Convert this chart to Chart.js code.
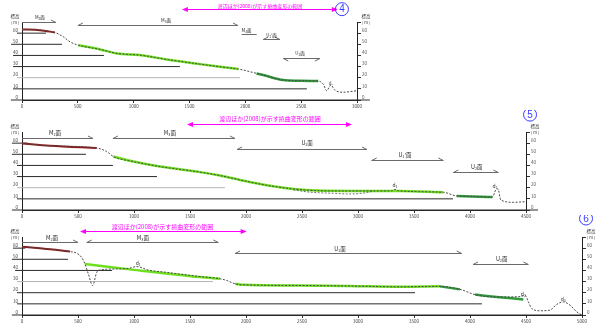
<!DOCTYPE html>
<html>
<head>
<meta charset="utf-8">
<script src="https://cdn.jsdelivr.net/npm/chart.js@4"></script>
<style>
  body { margin: 0; background: #fff; width: 600px; height: 327px; overflow: hidden; position: relative; }
  .panel { position: absolute; left: 0; width: 600px; height: 112px; }
</style>
</head>
<body>
<div class="panel" style="top:0"><canvas id="c4" width="600" height="112"></canvas></div>
<div class="panel" style="top:110px"><canvas id="c5" width="600" height="112"></canvas></div>
<div class="panel" style="top:215px"><canvas id="c6" width="600" height="112"></canvas></div>
<script>
// ---- 断面④ (距離 m / 標高 m) ----
const p4Dist = [0, 160, 295, 370, 430, 504, 700, 850, 1056, 1295, 1594, 1773, 1937, 2041, 2160, 2340, 2489, 2653, 2700, 2728, 2766, 2800, 2874, 2997];
const p4Elev = [63.3, 62.7, 60.6, 56.7, 52.2, 49.2, 45.4, 41.8, 40.3, 36.4, 32.2, 29.8, 27.8, 25.4, 22.4, 17.9, 17.3, 17.0, 14, 8.3, 13.4, 9, 7, 8.3];
const p4RedDist = [0, 160, 295];
const p4RedElev = [63.3, 62.7, 60.6];
const p4GreenDist = [504, 700, 850, 1056, 1295, 1594, 1773, 1937];
const p4GreenElev = [49.2, 45.4, 41.8, 40.3, 36.4, 32.2, 29.8, 27.8];
const p4DarkDist = [2100, 2160, 2340, 2489, 2653];
const p4DarkElev = [23.8, 22.4, 17.9, 17.3, 17.0];
const p4Levels = [60, 50, 40, 30, 20, 10, 0];
const p4LevelFrom = [-45, -98, -80, -80, -45, -80, -100];
const p4LevelTo = [215, 358, 734, 1414, 1952, 2551, 3115];

// ---- 断面⑤ ----
const p5Dist = [0, 250, 667, 756, 815, 994, 1232, 1589, 1768, 1946, 2185, 2423, 2631, 2929, 3200, 3300, 3330, 3360, 3762, 3881, 4089, 4200, 4230, 4250, 4275, 4387, 4500];
const p5Elev = [59.7, 57.7, 55.6, 52.5, 48, 43.5, 39, 34, 30.9, 27, 22.2, 18.9, 17.4, 17.1, 17.1, 17.2, 18.6, 17.2, 15.9, 12.6, 12, 11.6, 18, 19, 9, 6.9, 7.5];
const p5LowDist = [2423, 2571, 2780, 2929, 3078, 3134];
const p5LowElev = [18, 16, 15, 14.4, 15.6, 17];
const p5RedDist = [0, 250, 667];
const p5RedElev = [59.7, 57.7, 55.6];
const p5GreenDist = [815, 994, 1232, 1589, 1768, 1946, 2185, 2423, 2631, 2929, 3375, 3762];
const p5GreenElev = [48, 43.5, 39, 34, 30.9, 27, 22.2, 18.9, 17.4, 17.1, 17.1, 15.9];
const p5DarkDist = [3881, 4089, 4200];
const p5DarkElev = [12.6, 12, 11.6];
const p5Levels = [60, 50, 40, 30, 20, 10, 0];
const p5LevelFrom = [-90, -90, -45, -45, -45, -45, -90];
const p5LevelTo = [50, 571, 812, 1205, 1812, 3848, 4607];

// ---- 断面⑥ ----
const p6Dist = [0, 250, 429, 488, 533, 562, 592, 631, 667, 696, 845, 960, 1024, 1080, 1113, 1292, 1589, 1768, 1827, 1902, 1976, 2482, 2929, 3375, 3732, 3911, 4045, 4238, 4450, 4491, 4521, 4551, 4625, 4714, 4774, 4833, 4893, 4952, 4997];
const p6Elev = [61.3, 59, 56.9, 55.5, 51.6, 45.8, 36.9, 26.5, 38.3, 40.4, 41.3, 42, 43.5, 42, 40.7, 38.3, 34.5, 32.5, 31, 28, 27.1, 26.5, 26, 25.3, 25.7, 23, 18.3, 16.2, 16.5, 17.7, 11.8, 5.9, 3.8, 4.4, 9.5, 11.8, 8.8, 2.9, 0];
const p6RedDist = [0, 250, 429];
const p6RedElev = [61.3, 59, 56.9];
const p6GreenDist = [562, 1000, 1589, 1768];
const p6GreenElev = [45.8, 40.5, 34, 32.5];
const p6Green2Dist = [1902, 1976, 2482, 2929, 3375, 3732];
const p6Green2Elev = [28, 27.1, 26.5, 26, 25.3, 25.7];
const p6DarkDist = [3732, 3911];
const p6DarkElev = [25.7, 23];
const p6Dark2Dist = [4045, 4238, 4476];
const p6Dark2Elev = [18.3, 16.2, 14];
const p6Levels = [60, 50, 40, 30, 20, 10, 0];
const p6LevelFrom = [-80, -90, -62, -45, -45, -45, -90];
const p6LevelTo = [30, 411, 804, 1705, 3509, 4107, 5000];

const RANGE_TEXT = '渡辺ほか(2008)が示す撓曲変形の範囲';

// 注記（位置は距離・標高の座標）
const panelNotes = {
  c4: {
    num: '4', font: 5,
    range: { x1: 1432, x2: 2829, y: 81.5, tx: 2131, ty: 84.6 },
    circle: { x: 2865, y: 81.5 },
    brackets: [
      { t: 'M₂面', x1: 0, x2: 304, y: 69.8, tx: 160, ty: 74.3, ends: 'r' },
      { t: 'M₃面', x1: 501, x2: 1934, y: 67.1, tx: 1290, ty: 71.6, ends: 'lr' },
      { t: 'M₄面', x1: 1967, x2: 2101, y: 59.1, tx: 2011, ty: 62.7, ends: '' },
      { t: 'U₁\'面', x1: 2160, x2: 2310, y: 54.3, tx: 2235, ty: 58.2, ends: 'lr' },
      { t: 'U₂面', x1: 2340, x2: 2668, y: 37.3, tx: 2489, ty: 41.8, ends: 'lr', down: true }
    ],
    marks: [{ t: 'd₁', x: 2766, y: 15 }]
  },
  c5: {
    num: '5', font: 6,
    range: { x1: 1473, x2: 2946, y: 77.5, tx: 2214, ty: 81.7 },
    circle: { x: 4536, y: 85.6 },
    brackets: [
      { t: 'M₂面', x1: 0, x2: 634, y: 64.6, tx: 295, ty: 69.4, ends: 'r' },
      { t: 'M₃面', x1: 812, x2: 1902, y: 64.6, tx: 1321, ty: 69.4, ends: 'lr' },
      { t: 'U₁面', x1: 1920, x2: 3080, y: 55, tx: 2545, ty: 60.4, ends: 'lr' },
      { t: 'U₁\'面', x1: 3122, x2: 3762, y: 44.8, tx: 3420, ty: 49.3, ends: 'lr' },
      { t: 'U₂面', x1: 3851, x2: 4253, y: 34.2, tx: 4060, ty: 38.5, ends: 'lr' }
    ],
    marks: [{ t: 'd₁', x: 3330, y: 22.2 }, { t: 'd₂', x: 4223, y: 21.4 }]
  },
  c6: {
    num: '6', font: 6,
    range: { x1: 518, x2: 2006, y: 75.2, tx: 1254, ty: 79 },
    circle: { x: 5036, y: 86.6 },
    brackets: [
      { t: 'M₂面', x1: 0, x2: 500, y: 65.6, tx: 268, ty: 69.2, ends: 'r' },
      { t: 'M₃面', x1: 578, x2: 1753, y: 65.6, tx: 1080, ty: 69.2, ends: 'lr' },
      { t: 'U₁面', x1: 1902, x2: 3926, y: 55.8, tx: 2839, ty: 59.7, ends: 'lr' },
      { t: 'U₂面', x1: 4027, x2: 4521, y: 45.7, tx: 4283, ty: 50.1, ends: 'lr' }
    ],
    marks: [{ t: 'd₁', x: 1036, y: 46.6 }, { t: 'd₂', x: 4476, y: 19.2 }, { t: 'd₃', x: 4833, y: 14.2 }]
  }
};

Chart.defaults.font.family = '"Noto Sans CJK JP", "Liberation Sans", sans-serif';

function pts(xs, ys) {
  return xs.map((x, i) => ({ x, y: ys[i] }));
}

function profileLine(xs, ys, color, width, dash) {
  return {
    data: pts(xs, ys), borderColor: color, borderWidth: width, borderDash: dash || [],
    pointRadius: 0, cubicInterpolationMode: 'monotone', clip: false
  };
}

function levelLines(levels, from, to, faint) {
  return levels.map((lv, i) => ({
    data: [{ x: from[i], y: lv }, { x: to[i], y: lv }],
    borderColor: lv === faint ? '#b4b4b4' : '#2a2a2a',
    borderWidth: 1, pointRadius: 0, clip: false
  }));
}

function text(ctx, t, x, y, size, color) {
  ctx.font = size + 'px "Noto Sans CJK JP", sans-serif';
  ctx.fillStyle = color;
  ctx.textAlign = 'center';
  ctx.textBaseline = 'middle';
  ctx.fillText(t, x, y);
}

const notesPlugin = {
  id: 'notes',
  afterDraw(chart) {
    const n = panelNotes[chart.canvas.id];
    const { ctx, chartArea } = chart;
    const sx = chart.scales.x, sy = chart.scales.y;
    const px = v => sx.getPixelForValue(v), py = v => sy.getPixelForValue(v);
    ctx.save();

    // 軸見出し
    [chartArea.left - 7, chartArea.right + 9].forEach(cx => {
      text(ctx, '標高', cx, chartArea.top - 6, 4.5, '#333');
      text(ctx, '( m )', cx, chartArea.top, 4, '#333');
    });

    // 段丘面の範囲
    ctx.strokeStyle = '#6a6a6a';
    ctx.lineWidth = 1;
    n.brackets.forEach(b => {
      const x1 = px(b.x1), x2 = px(b.x2), y = Math.round(py(b.y)) + 0.5;
      const d = b.down ? 2.5 : -2.5;
      ctx.beginPath();
      ctx.moveTo(x1, y); ctx.lineTo(x2, y);
      if (b.ends.includes('l')) { ctx.moveTo(x1, y); ctx.lineTo(x1 + 5, y + d); }
      if (b.ends.includes('r')) { ctx.moveTo(x2, y); ctx.lineTo(x2 - 5, y + d); }
      ctx.stroke();
      text(ctx, b.t, px(b.tx), py(b.ty), n.font - 0.5, '#222');
    });
    n.marks.forEach(m => text(ctx, m.t, px(m.x), py(m.y), n.font - 1, '#333'));

    // 撓曲変形の範囲（マゼンタ）
    const r = n.range, ry = Math.round(py(r.y)) + 0.5;
    const a1 = px(r.x1), a2 = px(r.x2);
    ctx.strokeStyle = '#ff00ff';
    ctx.fillStyle = '#ff00ff';
    ctx.beginPath(); ctx.moveTo(a1 + 3, ry); ctx.lineTo(a2 - 3, ry); ctx.stroke();
    [[a1, 1], [a2, -1]].forEach(([ax, dir]) => {
      ctx.beginPath();
      ctx.moveTo(ax, ry);
      ctx.lineTo(ax + dir * 6, ry - 2.5);
      ctx.lineTo(ax + dir * 6, ry + 2.5);
      ctx.closePath();
      ctx.fill();
    });
    text(ctx, RANGE_TEXT, px(r.tx), py(r.ty), n.font, '#ff00ff');

    // 断面番号
    const cx = px(n.circle.x), cy = py(n.circle.y);
    ctx.strokeStyle = '#3a3aff';
    ctx.beginPath(); ctx.arc(cx, cy, 6.5, 0, Math.PI * 2); ctx.stroke();
    ctx.font = '10px "Liberation Sans", sans-serif';
    ctx.fillStyle = '#3a3aff';
    ctx.textAlign = 'center';
    ctx.textBaseline = 'middle';
    ctx.fillText(n.num, cx, cy + 0.5);

    ctx.restore();
  }
};

function drawPanel(id, xMax, padRight, rightWidth, datasets) {
  const tickFont = { size: 4.5 };
  new Chart(document.getElementById(id), {
    type: 'line',
    data: { datasets },
    options: {
      responsive: false,
      animation: false,
      layout: { padding: { top: 22, right: padRight, left: 0, bottom: 0 } },
      plugins: { legend: { display: false }, tooltip: { enabled: false } },
      elements: { point: { radius: 0 } },
      scales: {
        x: {
          type: 'linear', min: 0, max: xMax,
          ticks: { stepSize: 500, font: tickFont, color: '#444', padding: 1, maxRotation: 0, autoSkip: false,
                   callback: v => String(v) },
          grid: { drawOnChartArea: false, tickLength: 3, color: '#333' },
          border: { color: '#222' },
          afterFit: s => { s.height = 12; }
        },
        y: {
          min: 0, max: 70,
          ticks: { stepSize: 10, font: tickFont, color: '#444', padding: 4, labelOffset: -3,
                   callback: v => (v > 60 ? '' : v) },
          grid: { display: false, drawTicks: false },
          border: { color: '#222' },
          afterFit: s => { s.width = 22; }
        },
        y2: {
          position: 'right', min: 0, max: 70,
          ticks: { stepSize: 10, font: tickFont, color: '#555', padding: 1, labelOffset: -3,
                   callback: v => (v > 60 ? '' : v) },
          grid: { drawOnChartArea: false, tickLength: 4, color: '#333' },
          border: { color: '#222' },
          afterFit: s => { s.width = rightWidth; }
        }
      }
    },
    plugins: [notesPlugin]
  });
}

const LIME = '#6fe020', DARK = '#2f9a3a', RED = '#8e1b1b', DASH = '#4a4a4a';

drawPanel('c4', 3000, 223, 20, [
  profileLine(p4Dist, p4Elev, DASH, 1, [2, 1.5]),
  profileLine(p4RedDist, p4RedElev, RED, 2),
  profileLine(p4GreenDist, p4GreenElev, LIME, 2.5),
  profileLine(p4DarkDist, p4DarkElev, DARK, 2.5),
  ...levelLines(p4Levels, p4LevelFrom, p4LevelTo, 20)
]);

drawPanel('c5', 4500, 54, 20, [
  profileLine(p5Dist, p5Elev, DASH, 1, [2, 1.5]),
  profileLine(p5LowDist, p5LowElev, '#777', 1, [2, 1.5]),
  profileLine(p5RedDist, p5RedElev, RED, 2),
  profileLine(p5GreenDist, p5GreenElev, LIME, 2.5),
  profileLine(p5DarkDist, p5DarkElev, DARK, 2.5),
  ...levelLines(p5Levels, p5LevelFrom, p5LevelTo, 20)
]);

drawPanel('c6', 5000, 0, 18, [
  profileLine(p6Dist, p6Elev, DASH, 1, [2, 1.5]),
  profileLine(p6RedDist, p6RedElev, RED, 2),
  profileLine(p6GreenDist, p6GreenElev, LIME, 2.5),
  profileLine(p6Green2Dist, p6Green2Elev, LIME, 2.5),
  profileLine(p6DarkDist, p6DarkElev, DARK, 2.5),
  profileLine(p6Dark2Dist, p6Dark2Elev, DARK, 2.5),
  ...levelLines(p6Levels, p6LevelFrom, p6LevelTo, 30)
]);
</script>
</body>
</html>
